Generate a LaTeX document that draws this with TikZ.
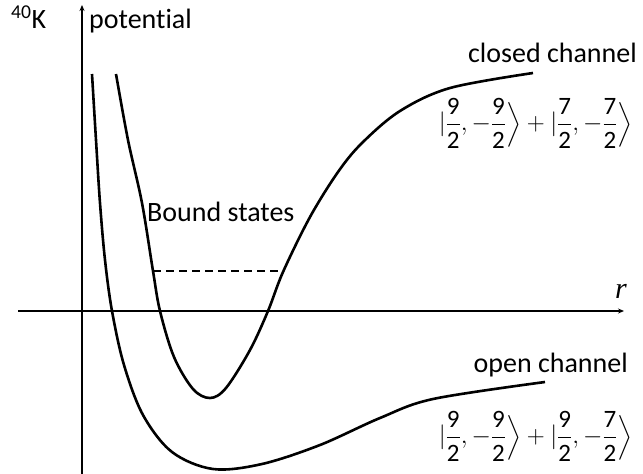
\documentclass[tikz,border=0pt]{standalone}
\usepackage{amsmath}
\usepackage{fontspec}
\setmainfont[Ligatures=NoCommon]{Carlito}
\newfontfamily\serifit{Liberation Serif}
\usetikzlibrary{arrows.meta}
\begin{document}
\begin{tikzpicture}[x=1pt,y=-1pt,
  curve/.style={line width=2.6pt, line join=round},
  axis/.style={line width=1.1pt,-{Stealth[length=6pt,width=5pt]}},
  lbl/.style={font=\fontsize{28}{30}\selectfont, inner sep=0pt},
  ket/.style={font=\fontsize{25}{28}\selectfont, inner sep=0pt}]
\useasboundingbox (0,0) rectangle (643,474);
\coordinate (yb) at (82,474);
\coordinate (yt) at (82,5);
\coordinate (xl) at (18,311);
\coordinate (xr) at (624,311);
\draw[axis] (yb) -- (yt);
\draw[axis] (xl) -- (xr);
% open channel
\draw[curve] plot[smooth, tension=0.55] coordinates {(92,74) (96,140) (100,203) (105,260) (112,311) (124,365) (143,415) (172,452) (213,469) (262,464) (320,445) (380,418) (433,399) (545,382)};
% closed channel
\draw[curve] plot[smooth, tension=0.55] coordinates {(116,74) (128,140) (142,203) (153,271) (160,311) (174,357) (193,389) (210,398) (226,388) (250,350) (268,311) (283,272) (310,217) (338,172) (362,143) (400,111) (450,88) (533,73)};
\coordinate (d1) at (153,271);
\coordinate (d2) at (284,271);
\draw[line width=1.3pt, dash pattern=on 8pt off 5pt] (d1) -- (d2);
\node[lbl, anchor=base west] (k40) at (11,28) {\textsuperscript{40}K};
\node[lbl, anchor=base west] (pot) at (89,28) {potential};
\node[lbl, anchor=base east] (cc) at (637,62) {closed channel};
\node[lbl, anchor=base west] (bs) at (147,221) {Bound states};
\node[lbl, anchor=base east] (oc) at (628,372) {open channel};
\node[font=\fontsize{30}{32}\selectfont\serifit\itshape, inner sep=0pt, anchor=base] (rr) at (621,298) {r};
\node[ket, anchor=east] (k1) at (633,123) {$|\dfrac{\text{9}}{\text{2}},-\dfrac{\text{9}}{\text{2}}\Big\rangle+|\dfrac{\text{7}}{\text{2}},-\dfrac{\text{7}}{\text{2}}\Big\rangle$};
\node[ket, anchor=east] (k2) at (633,436) {$|\dfrac{\text{9}}{\text{2}},-\dfrac{\text{9}}{\text{2}}\Big\rangle+|\dfrac{\text{9}}{\text{2}},-\dfrac{\text{7}}{\text{2}}\Big\rangle$};
\end{tikzpicture}
\end{document}
